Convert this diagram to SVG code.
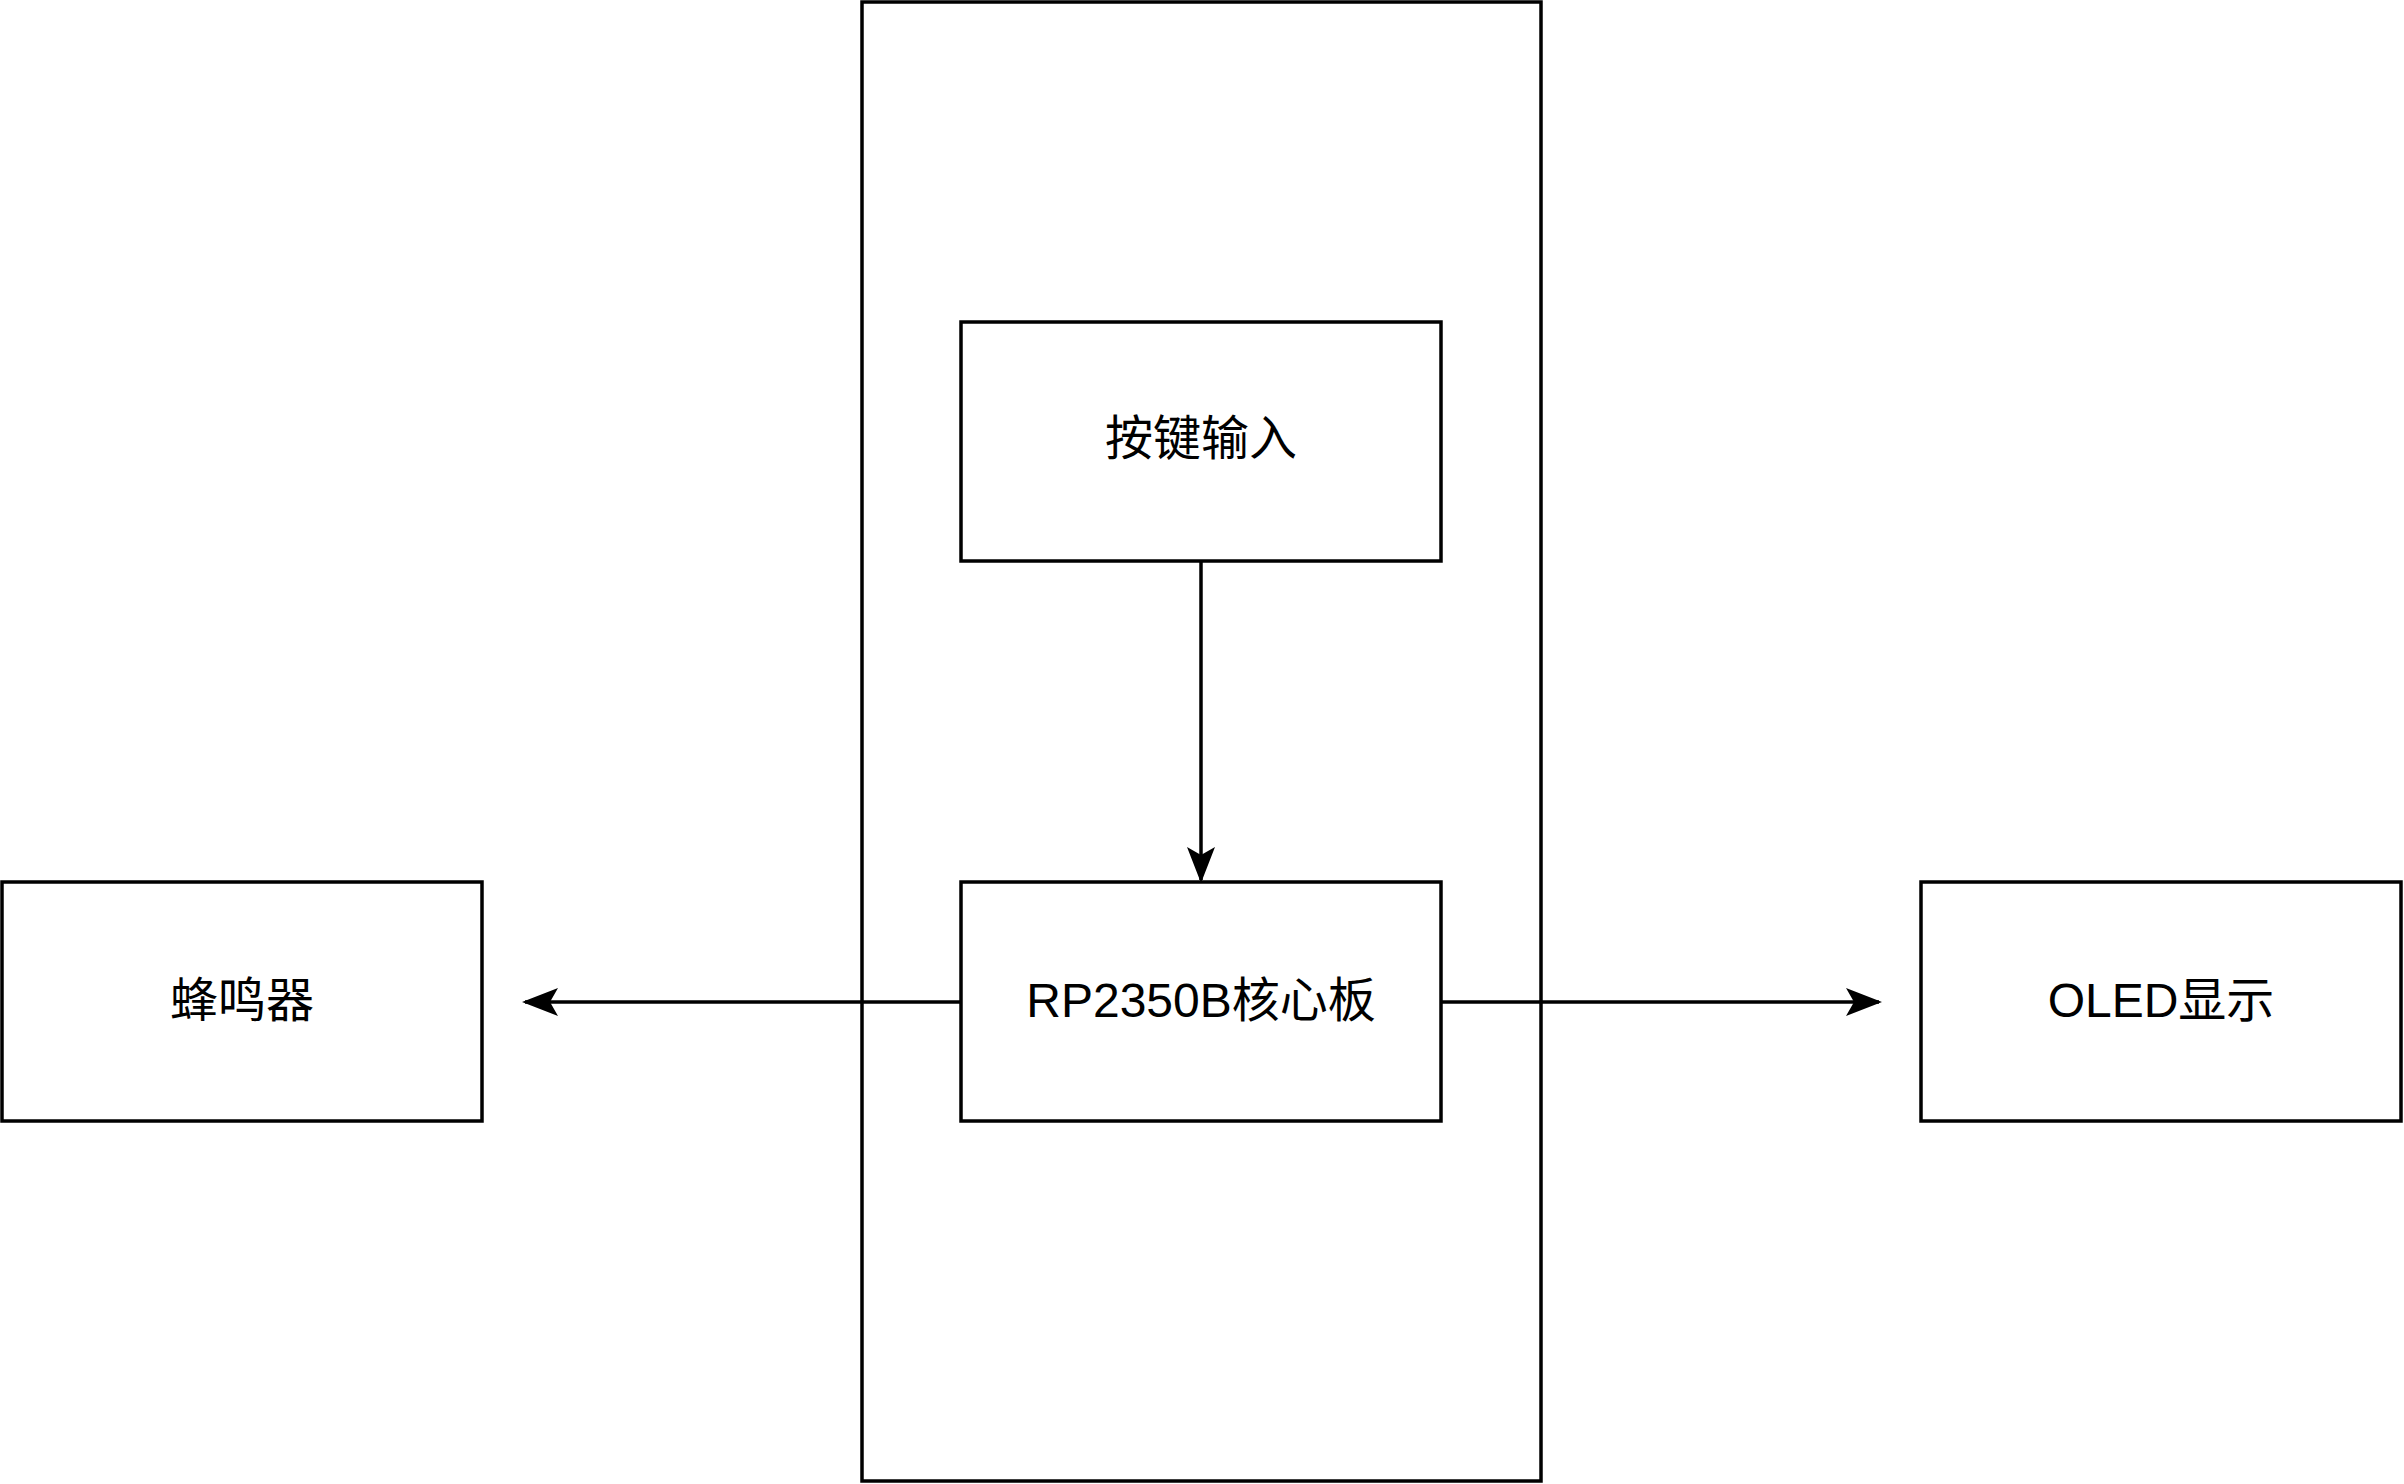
<svg xmlns="http://www.w3.org/2000/svg" width="2404" height="1484" viewBox="0 0 2404 1484">
<style>
rect{fill:#fff;stroke:#000;stroke-width:3.5}
text{font-family:"Liberation Sans","Noto Sans CJK SC",sans-serif;font-size:48px;text-anchor:middle;dominant-baseline:central;fill:#000}
.c{stroke:#000;stroke-width:3.5;fill:none}
</style>
<defs>
<marker id="b" markerWidth="36" markerHeight="36" refX="33" refY="18" orient="auto" markerUnits="userSpaceOnUse" viewBox="0 0 36 36"><path d="M0,4 L36,18 L0,32 L8,18 Z" fill="#000"/></marker></defs>
<g id="board"><rect x="862" y="2" width="679" height="1479"/></g>
<g id="key"><rect x="961" y="322" width="480" height="239"/><text x="1201" y="438">按键输入</text></g>
<g id="core"><rect x="961" y="882" width="480" height="239"/><text x="1201" y="1000">RP2350B核心板</text></g>
<g id="buzzer"><rect x="2" y="882" width="480" height="239"/><text x="242" y="1000">蜂鸣器</text></g>
<g id="oled"><rect x="1921" y="882" width="480" height="239"/><text x="2161" y="1000">OLED显示</text></g>
<g id="connectors">
<path class="c" d="M1201,561 V880" marker-end="url(#b)"/>
<path class="c" d="M961,1002 H525" marker-end="url(#b)"/>
<path class="c" d="M1441,1002 H1879" marker-end="url(#b)"/>
</g>
</svg>
